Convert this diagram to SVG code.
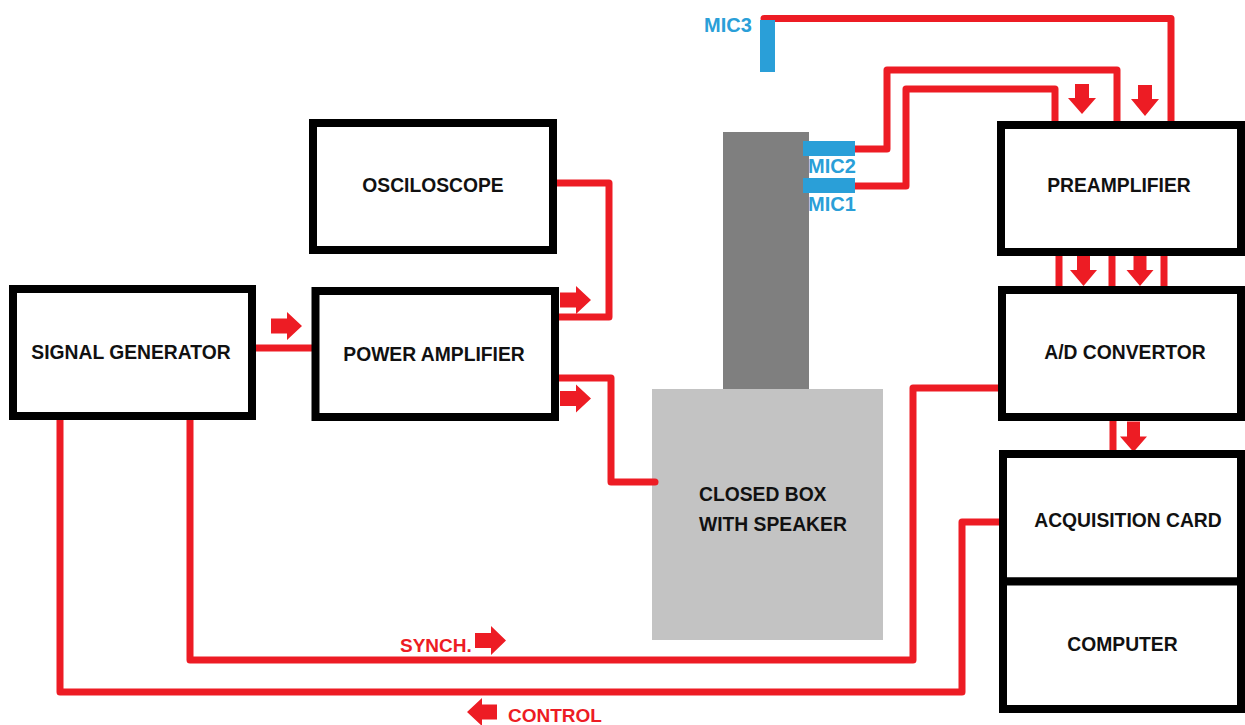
<svg xmlns="http://www.w3.org/2000/svg" width="1245" height="725" viewBox="0 0 1245 725">
<style>
.box{fill:#fff;stroke:#000;stroke-width:8}
.lbl{font-family:"Liberation Sans",Arial,sans-serif;font-weight:bold;font-size:19.3px;fill:#111;text-anchor:middle}
.mic{font-family:"Liberation Sans",Arial,sans-serif;font-weight:bold;font-size:20px;fill:#2a9fd8}
.rtxt{font-family:"Liberation Sans",Arial,sans-serif;font-weight:bold;font-size:19px;fill:#ed1c24}
.wire{fill:none;stroke:#ed1c24;stroke-width:7;stroke-linecap:round;stroke-linejoin:round}
.arr{fill:#ed1c24}
.micbar{fill:#2a9fd8}
</style>
<rect width="1245" height="725" fill="#fff"/>

<g id="speaker-box">
<rect x="723" y="132" width="86" height="258" fill="#7f7f7f"/>
<rect x="652" y="389" width="231" height="251" fill="#c3c3c3"/>
<text class="lbl" style="text-anchor:start" x="699" y="501">CLOSED BOX</text>
<text class="lbl" style="text-anchor:start" x="699" y="531">WITH SPEAKER</text>
</g>

<g id="connectors">
<path class="wire" d="M253,348 H315"/>
<path class="wire" d="M555,317 H609 V183 H553"/>
<path class="wire" d="M555,378 H611 V482 H655"/>
<path class="wire" d="M855,149 H887 V70 H1117 V124"/>
<path class="wire" d="M855,186 H906 V89 H1055 V124"/>
<path class="wire" d="M764,18.5 H1171 V124"/>
<path class="wire" d="M1059,253 V288"/>
<path class="wire" d="M1112,253 V288"/>
<path class="wire" d="M1164,253 V288"/>
<path class="wire" d="M1113,418 V455"/>
<path class="wire" d="M1000,388 H913 V660 H190 V417"/>
<path class="wire" d="M1000,522 H962 V692 H60 V419"/>
<path class="arr" d="M271,318.5 H287 V312 L302,326 L287,340 V333.5 H271 Z"/>
<path class="arr" d="M560,292.5 H576 V286 L591,300 L576,314 V307.5 H560 Z"/>
<path class="arr" d="M560,391 H576 V384.5 L591,398.5 L576,412.5 V406 H560 Z"/>
<path class="arr" d="M475,633 H491 V626 L506,640.5 L491,655 V648 H475 Z"/>
<path class="arr" d="M497,704.5 H482 V698 L467,712 L482,726 V719.5 H497 Z"/>
<path class="arr" d="M1075,84 V98 H1068 L1082,114 L1096,98 H1089 V84 Z"/>
<path class="arr" d="M1138,85 V99 H1131 L1145,116 L1159,99 H1152 V85 Z"/>
<path class="arr" d="M1077,255 V270 H1070 L1083.5,286 L1097,270 H1090 V255 Z"/>
<path class="arr" d="M1133.5,255 V270 H1126.5 L1140,286 L1153.5,270 H1146.5 V255 Z"/>
<path class="arr" d="M1127,421.5 V436.5 H1120 L1133.5,452 L1147,436.5 H1140 V421.5 Z"/>
</g>

<g id="mic3">
<rect class="micbar" x="760" y="20" width="15" height="52"/>
<text class="mic" x="704" y="32">MIC3</text>
</g>
<g id="mic2">
<rect class="micbar" x="803" y="141" width="52" height="15"/>
<text class="mic" x="808" y="173">MIC2</text>
</g>
<g id="mic1">
<rect class="micbar" x="803" y="178" width="52" height="15"/>
<text class="mic" x="808" y="211">MIC1</text>
</g>

<g id="signal-generator">
<rect class="box" x="13" y="289" width="239" height="127"/>
<text class="lbl" x="131" y="359">SIGNAL GENERATOR</text>
</g>
<g id="power-amplifier">
<rect class="box" x="315.5" y="291" width="239.5" height="126"/>
<text class="lbl" x="434" y="361">POWER AMPLIFIER</text>
</g>
<g id="osciloscope">
<rect class="box" x="313" y="123" width="240" height="127"/>
<text class="lbl" x="433" y="192">OSCILOSCOPE</text>
</g>
<g id="preamplifier">
<rect class="box" x="1001" y="125" width="240" height="127"/>
<text class="lbl" x="1119" y="192">PREAMPLIFIER</text>
</g>
<g id="ad-convertor">
<rect class="box" x="1002" y="290" width="239" height="127"/>
<text class="lbl" x="1125" y="359">A/D CONVERTOR</text>
</g>
<g id="acquisition-card">
<rect class="box" x="1003" y="454" width="238" height="127.5"/>
<text class="lbl" x="1128" y="527">ACQUISITION CARD</text>
</g>
<g id="computer">
<rect class="box" x="1003" y="581.5" width="238" height="127.5"/>
<text class="lbl" x="1122.5" y="651">COMPUTER</text>
</g>

<g id="labels">
<text class="rtxt" x="400" y="652">SYNCH.</text>
<text class="rtxt" x="508" y="722">CONTROL</text>
</g>
</svg>
